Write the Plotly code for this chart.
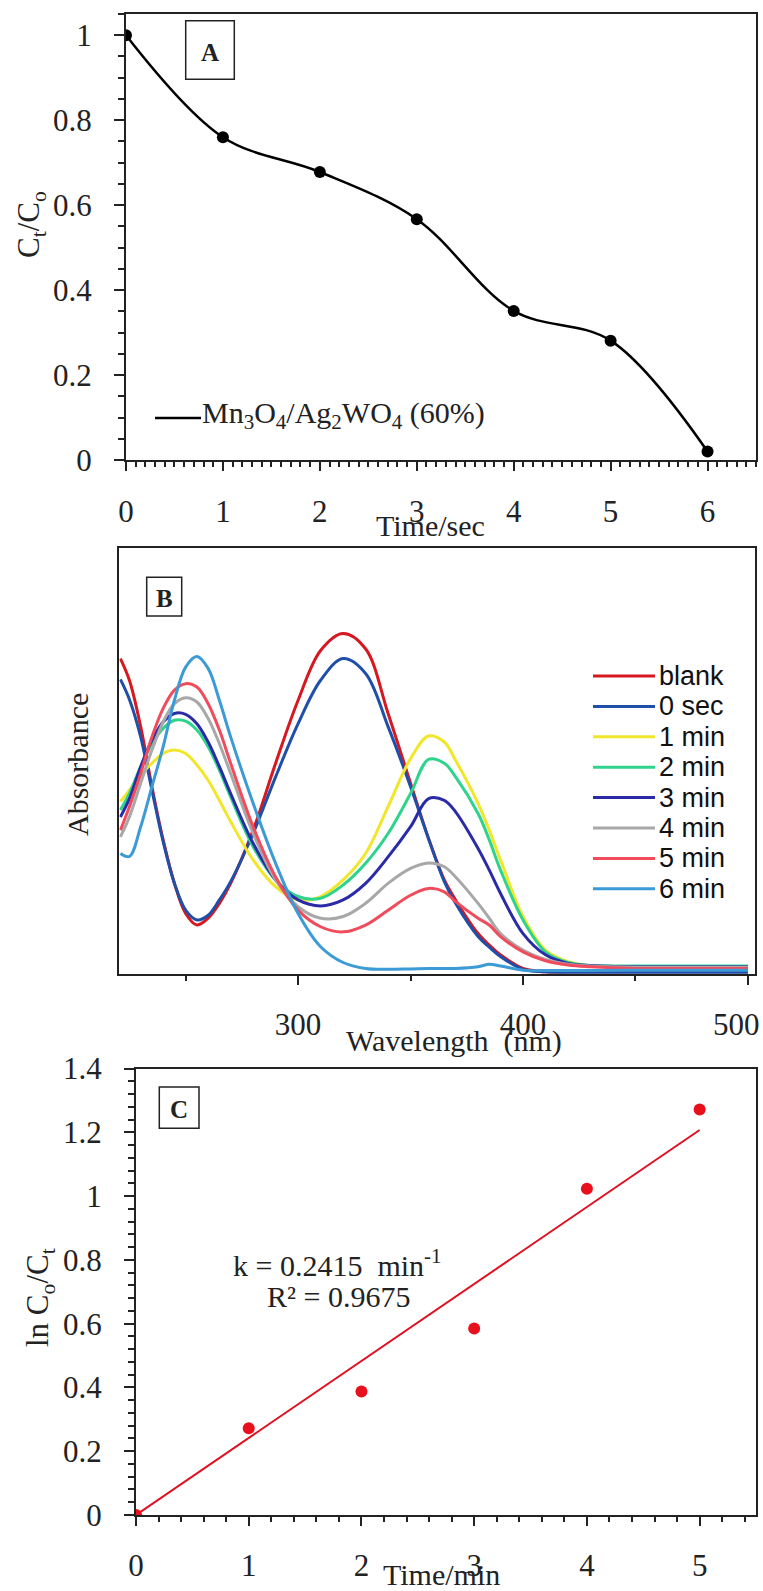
import plotly.graph_objects as go

W, H = 763, 1591

# ---------------- Panel A data ----------------
time_a = [0, 1, 2, 3, 4, 5, 6]
ct_c0 = [1.0, 0.76, 0.678, 0.567, 0.351, 0.281, 0.02]
series_a_name = "Mn<sub>3</sub>O<sub>4</sub>/Ag<sub>2</sub>WO<sub>4</sub> (60%)"

# ---------------- Panel B data ----------------
wavelength = [221, 225, 230, 235, 240, 245, 250, 255, 260, 265, 270, 280, 290, 300, 310, 320,
              330, 340, 350, 358, 365, 370, 380, 385, 390, 400, 410, 420, 430, 450, 475, 500]
abs_blank = [0.741, 0.690, 0.581, 0.440, 0.315, 0.213, 0.142, 0.115, 0.131, 0.166, 0.213, 0.338,
             0.495, 0.643, 0.760, 0.800, 0.764, 0.612, 0.448, 0.318, 0.221, 0.174, 0.095, 0.068,
             0.045, 0.013, 0.005, 0.005, 0.005, 0.005, 0.005, 0.005]
abs_0sec = [0.692, 0.645, 0.557, 0.432, 0.311, 0.213, 0.150, 0.127, 0.138, 0.174, 0.217, 0.330,
            0.463, 0.588, 0.690, 0.741, 0.706, 0.581, 0.440, 0.318, 0.217, 0.166, 0.088, 0.063,
            0.041, 0.011, 0.005, 0.004, 0.004, 0.004, 0.004, 0.004]
abs_1min = [0.405, 0.432, 0.467, 0.495, 0.518, 0.526, 0.518, 0.491, 0.455, 0.408, 0.358, 0.268,
            0.205, 0.174, 0.182, 0.221, 0.283, 0.393, 0.506, 0.559, 0.545, 0.502, 0.401, 0.338,
            0.268, 0.135, 0.056, 0.029, 0.020, 0.017, 0.017, 0.017]
abs_2min = [0.385, 0.424, 0.487, 0.541, 0.577, 0.596, 0.594, 0.573, 0.534, 0.479, 0.416, 0.299,
            0.221, 0.182, 0.178, 0.209, 0.260, 0.330, 0.424, 0.504, 0.495, 0.463, 0.377, 0.315,
            0.244, 0.127, 0.052, 0.027, 0.020, 0.019, 0.019, 0.019]
abs_3min = [0.369, 0.412, 0.487, 0.549, 0.592, 0.612, 0.610, 0.588, 0.545, 0.487, 0.424, 0.307,
            0.221, 0.174, 0.160, 0.174, 0.213, 0.275, 0.346, 0.412, 0.408, 0.381, 0.295, 0.244,
            0.189, 0.095, 0.045, 0.025, 0.020, 0.017, 0.017, 0.017]
abs_4min = [0.322, 0.369, 0.448, 0.526, 0.592, 0.635, 0.649, 0.639, 0.600, 0.541, 0.471, 0.330,
            0.221, 0.158, 0.131, 0.135, 0.166, 0.213, 0.248, 0.261, 0.252, 0.228, 0.166, 0.131,
            0.095, 0.056, 0.034, 0.023, 0.019, 0.016, 0.016, 0.016]
abs_5min = [0.338, 0.393, 0.471, 0.557, 0.624, 0.667, 0.682, 0.674, 0.635, 0.573, 0.495, 0.346,
            0.228, 0.150, 0.111, 0.099, 0.115, 0.150, 0.185, 0.201, 0.193, 0.170, 0.131, 0.115,
            0.088, 0.052, 0.031, 0.021, 0.017, 0.013, 0.013, 0.013]
abs_6min = [0.283, 0.276, 0.346, 0.440, 0.534, 0.643, 0.721, 0.746, 0.718, 0.643, 0.557, 0.401,
            0.260, 0.142, 0.064, 0.027, 0.013, 0.011, 0.012, 0.013, 0.013, 0.013, 0.017, 0.023,
            0.019, 0.009, 0.008, 0.008, 0.008, 0.009, 0.009, 0.009]
series_b_names = ["blank", "0 sec", "1 min", "2 min", "3 min", "4 min", "5 min", "6 min"]
series_b_colors = ["#d61820", "#1f4fa8", "#f2e62a", "#2ed48c", "#2b2ba8", "#a8a8a8", "#f04c5c", "#3c9ad6"]
series_b_values = [abs_blank, abs_0sec, abs_1min, abs_2min, abs_3min, abs_4min, abs_5min, abs_6min]
wl_ticks = [300, 400, 500]
wl_ticktext = ["300", "400", "500\u00a0\u00a0\u00a0"]

# ---------------- Panel C data ----------------
time_c = [0, 1, 2, 3, 4, 5]
ln_c0_ct = [0.0, 0.272, 0.387, 0.585, 1.023, 1.272]
fit_t = [0, 5]
fit_y = [0.0, 1.2075]
k_text = "k = 0.2415  min<sup>-1</sup>"
r2_text = "R² = 0.9675"

SERIF = "Liberation Serif"
SANS = "Liberation Sans"
AX = "#222222"
FS = 31


def px(x):
    return x / W


def py(y):
    return 1 - y / H


fig = go.Figure()

# Panel A
fig.add_trace(go.Scatter(x=time_a, y=ct_c0, mode="lines+markers", xaxis="x", yaxis="y",
                         line=dict(color="black", width=2.5, shape="spline", smoothing=1.0),
                         marker=dict(color="black", size=12), showlegend=False))

# Panel B
for name, col, vals in zip(series_b_names, series_b_colors, series_b_values):
    fig.add_trace(go.Scatter(x=wavelength, y=vals, mode="lines", xaxis="x2", yaxis="y2",
                             line=dict(color=col, width=3, shape="spline", smoothing=1.0),
                             name=name, showlegend=False))

# Panel C
fig.add_trace(go.Scatter(x=fit_t, y=fit_y, mode="lines", xaxis="x3", yaxis="y3",
                         line=dict(color="#e01020", width=2), showlegend=False))
fig.add_trace(go.Scatter(x=time_c, y=ln_c0_ct, mode="markers", xaxis="x3", yaxis="y3",
                         marker=dict(color="#e8101c", size=12), showlegend=False))

tickfont = dict(family=SERIF, size=FS, color=AX)
common = dict(showline=True, linewidth=2, linecolor=AX, mirror=True, showgrid=False,
              zeroline=False, ticks="outside", tickwidth=2, tickcolor=AX, tickfont=tickfont,
              ticklabeloverflow="allow", automargin=False)

fig.update_layout(
    width=W, height=H, margin=dict(l=0, r=0, t=0, b=0, autoexpand=False),
    paper_bgcolor="white", plot_bgcolor="white",
    xaxis=dict(domain=[px(126), px(756)], range=[0, 6.5], anchor="y", dtick=1, tick0=0, ticklen=9,
               ticklabelstandoff=14,
               minor=dict(ticks="outside", dtick=0.1, tick0=0, ticklen=5, tickwidth=1.5, tickcolor=AX),
               **common),
    yaxis=dict(domain=[py(460), py(14)], range=[0, 1.05], anchor="x", dtick=0.2, tick0=0, ticklen=10,
               ticklabelstandoff=16,
               minor=dict(ticks="outside", dtick=0.05, tick0=0, ticklen=6, tickwidth=1.5, tickcolor=AX),
               **common),
    xaxis2=dict(domain=[px(119.3), px(754.7)], range=[220.5, 503], anchor="y2",
                tickmode="array", tickvals=wl_ticks, ticktext=wl_ticktext,
                ticklen=9, ticklabelstandoff=13,
                minor=dict(ticks="outside", tickmode="linear", dtick=50, tick0=0, ticklen=5,
                           tickwidth=1.5, tickcolor=AX),
                **common),
    yaxis2=dict(domain=[py(974), py(548.3)], range=[0, 1.0], anchor="x2", showticklabels=False,
                showline=True, linewidth=2, linecolor=AX, mirror=True, showgrid=False, zeroline=False,
                ticks="", automargin=False),
    xaxis3=dict(domain=[px(136), px(756)], range=[0, 5.5], anchor="y3", dtick=1, tick0=0, ticklen=9,
                ticklabelstandoff=13,
                minor=dict(ticks="outside", dtick=0.2, tick0=0, ticklen=5, tickwidth=1.5, tickcolor=AX),
                **common),
    yaxis3=dict(domain=[py(1515), py(1068.6)], range=[0, 1.4], anchor="x3", dtick=0.2, tick0=0,
                ticklen=10, ticklabelstandoff=16,
                minor=dict(ticks="outside", dtick=0.04, tick0=0, ticklen=6, tickwidth=1.5, tickcolor=AX),
                **common),
)

ann = []
shapes = []


def text(t, x, y, size=FS, family=SERIF, angle=0, xanchor="center", color=AX):
    ann.append(dict(text=t, x=px(x), y=py(y), xref="paper", yref="paper", showarrow=False,
                    xanchor=xanchor, yanchor="middle", textangle=angle,
                    font=dict(family=family, size=size, color=color)))


def box(x0, x1, y0, y1):
    shapes.append(dict(type="rect", xref="paper", yref="paper", x0=px(x0), x1=px(x1),
                       y0=py(y1), y1=py(y0), line=dict(color=AX, width=1.5), fillcolor="white",
                       layer="above"))


# axis titles
text("Time/sec", 430, 525, size=30)
text("C<sub>t</sub>/C<sub>o</sub>", 31, 224, angle=-90)
text("Wavelength  (nm)", 454, 1041, size=30)
text("Absorbance", 78, 765, size=30, angle=-90)
text("ln C<sub>o</sub>/C<sub>t</sub>", 40, 1298, angle=-90)
text("Time/min", 441, 1574, size=30)

# panel labels (boxes + letters)
box(185.7, 234.3, 20.7, 79.3)
text("<b>A</b>", 210, 52, size=25)
box(146.7, 181.7, 577.3, 616)
text("<b>B</b>", 164.2, 598, size=25)
box(159.3, 199, 1087, 1128.3)
text("<b>C</b>", 179.2, 1109, size=25)

# panel C equation
text(k_text, 337, 1263, size=30)
text(r2_text, 338, 1296, size=30)

# legend panel A
shapes.append(dict(type="line", xref="paper", yref="paper", x0=px(155), x1=px(201), y0=py(418), y1=py(418),
                   line=dict(color="black", width=2.5)))
text(series_a_name, 200, 415, size=30, xanchor="left")

# legend panel B
for i, (name, col) in enumerate(zip(series_b_names, series_b_colors)):
    yy = 676 + 30.4 * i
    shapes.append(dict(type="line", xref="paper", yref="paper", x0=px(593), x1=px(655), y0=py(yy), y1=py(yy),
                       line=dict(color=col, width=3)))
    text(name, 657, yy, size=27, family=SANS, xanchor="left", color="#111111")

fig.update_layout(annotations=ann, shapes=shapes)
fig.write_html("out.html")
